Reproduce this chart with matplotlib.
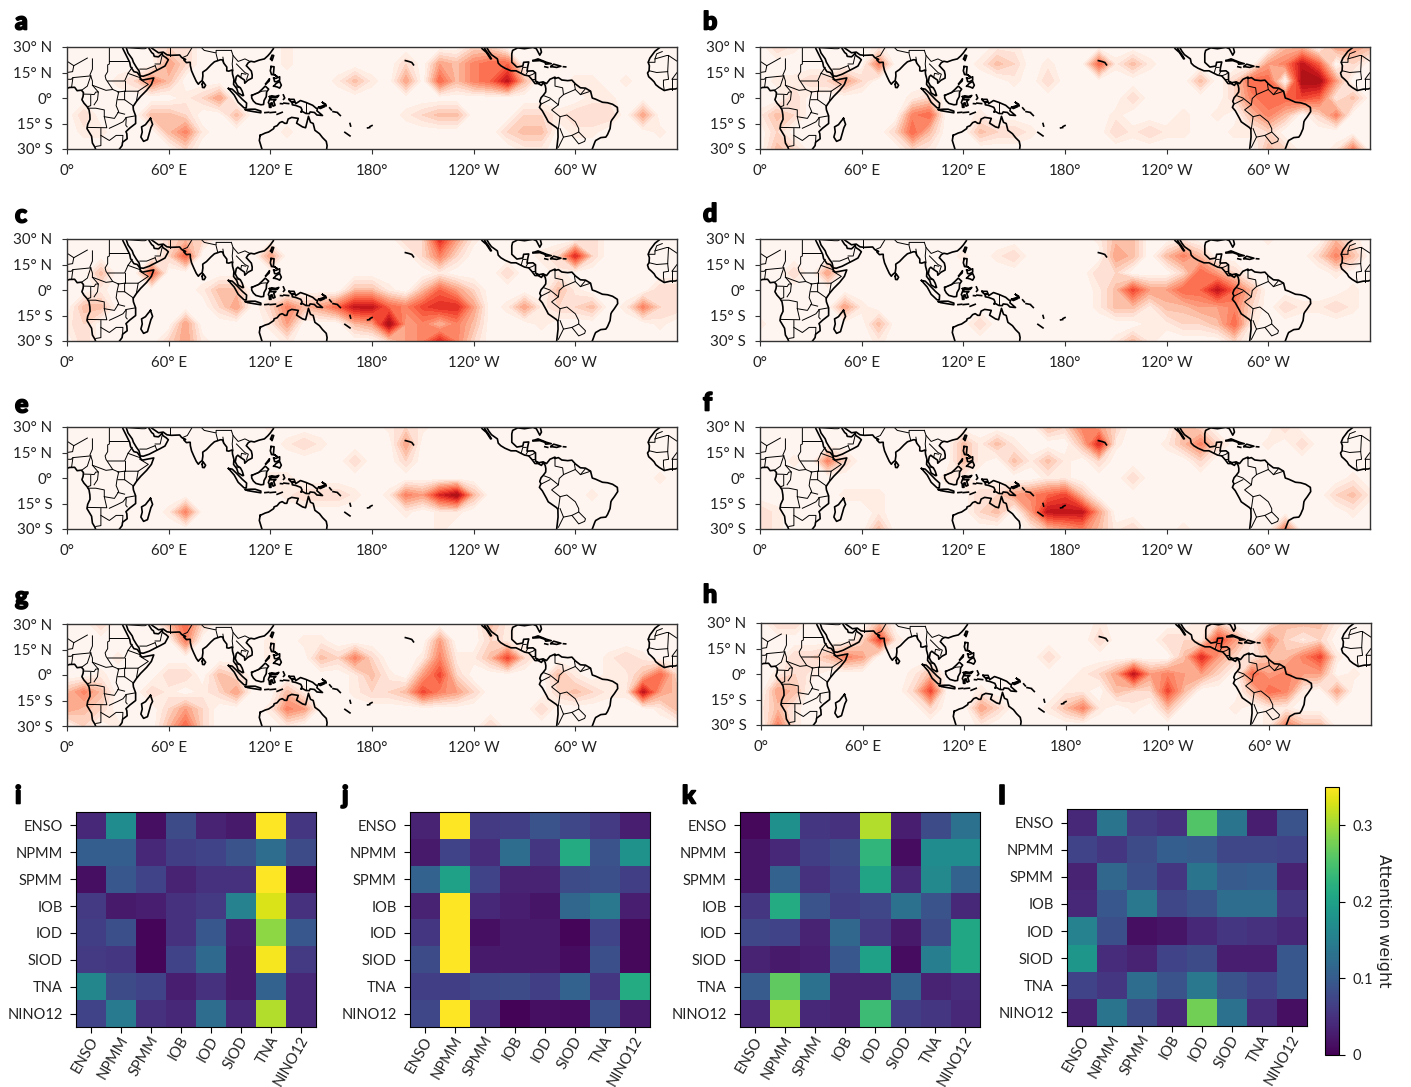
import numpy as np
import matplotlib
matplotlib.use('Agg')
import matplotlib.pyplot as plt
import matplotlib.patheffects as pe
from matplotlib.transforms import ScaledTranslation

plt.rcParams['font.family'] = ['Lato', 'DejaVu Sans']

# attention maps: (lon, lat, value) on a 10 deg grid, rest is 0
panel_a = [(50,10,5),(60,20,4),(70,20,2),(60,30,2),(70,30,2),(50,30,1),(40,10,2),(60,10,3),(30,10,1),
           (90,0,4),(80,0,2),(70,0,1),(100,-10,3),(70,-20,5),(60,-10,3),(50,-10,3),(60,-20,3),(70,-10,2),(70,-30,2),(80,-20,1),
           (170,10,3),(160,10,1),(180,10,1),(10,-10,2),(10,-20,1),(20,-20,1),(130,-20,1),(130,20,1),(130,30,1),
           (200,10,4),(200,20,2),(220,10,6),(220,20,4),(240,10,5),(240,20,5),(250,20,6),(260,10,9),(250,10,6),(260,20,6),
           (230,10,3),(230,20,3),(270,10,3),(240,30,2),(250,30,2),(210,-10,2),(220,-10,3),(230,-10,3),(200,-10,1),
           (270,-10,2),(270,-20,3),(280,-20,3),(260,-20,2),(280,-10,2),(270,-30,1),(280,-30,1),
           (310,-10,2),(320,-10,2),(300,-10,2),(310,0,1),(320,0,1),(290,-10,1),(310,-20,1),(300,-20,1),(300,10,1),(310,10,1),(330,10,1),
           (340,-10,4),(350,-20,1)]
panel_b = [(10,30,2),(20,30,1),(70,20,5),(70,30,1),(50,10,4),(60,10,2),(10,-10,3),(10,-20,2),(0,-10,1),(10,-30,3),(20,-30,2),
           (20,0,2),(20,-10,2),(20,10,1),(30,10,2),(40,10,2),(10,10,1),
           (100,-10,6),(90,-20,6),(90,-10,5),(100,-20,3),(100,0,2),(90,0,1),(80,-20,2),(90,-30,2),(100,-30,1),
           (140,20,3),(130,20,1),(150,20,2),(150,30,1),(150,10,1),(140,30,1),(170,10,2),(170,20,1),
           (200,20,6),(220,20,3),(210,20,1),(230,20,1),(130,-20,3),(140,-20,2),(150,-20,2),(160,-20,1),(130,-10,1),
           (210,-20,2),(210,-10,1),(240,-20,1),(230,-20,2),(250,-20,1),(250,-10,1),(220,-20,1),(220,0,2),(260,10,3),(270,-10,1),(280,-20,1),
           (300,-10,5),(310,-10,3),(300,0,6),(290,0,5),(290,10,6),(300,10,6),(310,0,6),(320,0,7),(320,10,10),(330,10,10),(320,20,9),
           (310,20,5),(330,20,6),(300,20,4),(310,30,3),(320,30,3),(340,10,4),(330,0,6),(290,-10,3),(280,0,2),(280,10,2),(300,-20,2),(290,-20,1),(340,0,1),
           (340,-10,5),(350,0,3),(330,-10,2),(350,-30,5),(340,-30,1),(340,30,4),(350,30,4),(350,20,2),(360,30,3),(300,-30,3),(310,-30,2)]
panel_c = [(20,10,3),(50,10,6),(70,20,6),(70,30,3),(60,30,2),(80,30,2),(60,20,2),(10,-10,3),(20,-10,3),(20,0,1),(10,-20,2),(0,-20,1),(10,-30,2),
           (70,-20,4),(70,-30,4),(60,-30,2),(80,-30,1),(90,0,3),(100,0,3),(100,-10,4),(90,-10,2),(80,0,1),(120,20,4),
           (130,-10,5),(140,-10,3),(130,-20,4),(120,-10,2),(120,-20,1),(130,-30,1),
           (160,-10,6),(170,-10,9),(180,-10,9),(170,0,3),(180,0,3),(150,-10,4),(190,0,1),(190,-10,6),(200,-10,5),(210,-10,7),(220,-10,8),(230,-10,8),(240,-10,4),
           (180,-20,4),(190,-20,10),(200,-20,4),(170,-20,3),(190,-30,2),(200,-30,4),(210,-20,5),(220,-20,3),(230,-20,5),(240,-20,3),(210,-30,5),(220,-30,8),(230,-30,5),(240,-30,2),
           (220,0,6),(210,0,3),(230,0,4),(240,0,2),(220,10,1),(200,30,2),(210,30,2),(220,30,8),(230,30,4),(240,30,1),(220,20,5),(210,20,2),(230,20,2),
           (260,10,2),(270,-10,4),(260,-10,1),(280,-10,1),(290,0,3),(290,10,1),(300,-10,2),(310,-10,3),(290,-10,2),(300,0,1),
           (300,20,8),(290,20,2),(310,20,2),(310,30,2),(280,20,1),(280,-20,1),(340,-10,5),(350,-10,2),(350,0,2),(330,-10,1),(350,-20,1),(360,-10,2),(360,0,2)]
panel_d = [(50,-10,4),(60,-10,1),(40,10,4),(20,10,2),(70,-20,3),(70,-30,1),(130,-20,2),(0,-20,1),(150,20,2),(140,20,1),(120,20,1),
           (210,20,4),(220,30,3),(210,30,3),(220,20,3),(200,30,1),(250,20,5),(240,20,3),(260,20,3),(250,30,1),
           (220,0,7),(210,0,3),(200,0,1),(230,0,4),(240,0,4),(250,0,6),(260,0,6),(270,0,9),(280,0,6),(260,10,6),(270,10,4),(250,10,2),(200,10,2),(210,10,2),(280,10,2),(290,0,3),
           (210,-10,3),(220,-10,3),(230,-10,1),(240,-10,3),(250,-10,3),(260,-10,4),(270,-10,4),(280,-10,5),(290,-10,2),(200,-10,1),
           (280,-20,6),(270,-20,3),(260,-20,2),(230,-20,1),(240,-20,1),(250,-20,2),(290,-20,1),(280,-30,2),(220,-30,3),(210,-30,1),(230,-30,1),
           (310,-10,2),(320,-10,1),(340,-10,2),(330,-10,1),(350,-10,1),(350,0,1),(340,20,5),(330,20,2),(340,30,3),(350,20,3),(340,10,1),(350,30,1),(300,30,1)]
panel_e = [(70,-20,5),(60,-20,1),(140,20,2),(130,20,1),(150,20,1),(170,10,2),(200,20,4),(200,30,2),(200,10,2),(210,30,1),(190,30,1),
           (200,-10,5),(190,-10,1),(210,-10,4),(220,-10,8),(230,-10,10),(240,-10,3),(230,-20,1),(220,-20,1),(200,-20,1),(220,-30,1),
           (130,-10,1),(140,-10,2),(150,-10,2),(160,-10,2),(120,0,1),(130,0,1),(170,-10,1),(350,0,1),(120,30,1),(310,-10,1)]
panel_f = [(40,10,5),(50,10,2),(20,10,1),(140,20,3),(120,10,3),(120,20,3),(130,20,1),(120,0,1),(110,0,1),(130,10,1),
           (150,10,3),(170,10,3),(160,10,1),(180,10,1),(150,20,1),(170,30,3),(190,30,5),(200,30,4),(200,20,8),(190,20,3),(200,10,2),(180,30,2),(210,30,2),(210,20,1),
           (220,0,2),(260,20,5),(250,30,3),(250,20,3),(260,10,2),(270,20,2),(240,20,1),(260,30,2),(310,30,2),(320,20,2),(300,20,1),
           (350,-10,3),(340,-10,2),(350,0,1),(350,-20,1),(360,-10,1),(0,-20,2),(0,-30,2),(10,-20,1),(10,-30,1),(50,-10,1),
           (70,-30,3),(70,-20,1),(60,-10,1),(70,-10,1),
           (170,-20,9),(180,-20,9),(190,-20,9),(170,-10,6),(180,-10,7),(160,-10,5),(160,-20,4),(150,-10,4),(140,-10,2),(130,-10,2),(140,-20,3),(130,-20,2),(190,-10,3),(200,-20,4),
           (170,-30,3),(180,-30,4),(190,-30,5),(200,-30,3),(160,-30,1),(180,0,1),(170,0,1),(310,-30,5),(250,-30,1),(220,-30,2),(210,-30,1)]
panel_g = [(20,30,2),(70,30,6),(70,20,5),(60,30,3),(80,30,2),(10,-10,5),(0,-10,3),(0,-20,4),(10,-20,3),(20,-10,3),(20,-20,2),(10,-30,2),(30,-30,1),(20,0,1),(30,10,1),
           (50,-10,2),(70,0,2),(90,0,3),(100,-10,4),(90,-10,2),(80,-10,1),(60,0,2),(100,0,2),(60,-10,1),
           (70,-30,6),(70,-20,4),(60,-20,2),(60,-30,3),(80,-20,2),(80,-30,2),(120,20,1),(120,10,1),
           (130,-20,5),(130,-10,3),(140,-20,4),(120,-20,1),(140,-10,1),(130,-30,1),
           (150,10,3),(170,10,5),(160,10,2),(180,10,2),(140,20,1),(150,20,1),(170,0,1),(180,0,3),(190,0,1),(180,-10,2),(170,-10,1),
           (220,0,7),(220,10,5),(220,20,4),(210,0,4),(230,0,2),(210,10,1),(230,10,1),(200,-10,3),(210,-10,7),(220,-10,5),(230,-10,4),(240,-10,2),(190,-10,2),
           (250,-30,2),(260,10,7),(250,10,3),(250,20,2),(250,30,3),(260,20,1),(270,10,2),(260,30,1),(240,10,1),
           (290,0,3),(300,-10,3),(310,-10,2),(290,-10,2),(320,-10,1),(300,0,1),(280,-20,2),(330,10,2),(320,10,1),(340,10,1),(320,0,1),(330,0,1),
           (340,-10,9),(350,0,6),(340,0,3),(350,-10,4),(330,-10,1),(360,0,2),(360,-10,3),(360,-20,3),(350,-20,1)]
panel_h = [(10,30,2),(20,30,2),(70,20,7),(60,20,2),(70,30,3),(60,10,4),(50,10,5),(40,10,3),(80,20,1),(20,10,2),(30,0,1),(30,10,2),
           (10,-10,4),(20,-10,3),(10,0,1),(10,-20,3),(10,-30,5),(0,-20,1),(20,-30,1),(20,0,2),(20,-20,1),
           (100,-10,7),(100,0,3),(90,0,1),(100,-20,2),(90,-10,2),(130,-20,4),(130,-10,1),(140,-20,2),(130,-30,1),(170,10,2),(200,20,2),(200,30,1),
           (190,-20,5),(180,-20,3),(180,-10,1),(190,-10,1),(170,-20,1),(200,-20,1),
           (220,0,9),(210,0,4),(200,0,2),(190,0,1),(230,0,4),(240,0,5),(250,0,4),(260,0,4),(270,0,2),
           (240,-10,7),(230,-10,2),(250,-10,3),(220,-10,2),(210,-10,3),(240,-20,3),(220,-20,1),
           (260,10,8),(250,10,3),(270,10,4),(250,20,2),(240,20,2),(260,20,1),(280,10,2),(270,20,7),(280,20,4),(270,30,2),(290,20,1),(260,30,1),
           (300,20,5),(310,30,3),(320,30,3),(330,30,3),(300,30,1),(310,20,2),(310,10,3),(320,10,5),(330,10,7),(340,10,1),(320,20,1),(300,10,3),(330,20,2),(340,30,1),
           (290,0,6),(300,-10,6),(310,-10,5),(300,0,4),(310,0,5),(320,0,4),(330,0,4),(290,-10,3),(320,-10,1),(310,-20,1),(300,-20,1),(290,10,1),
           (340,-10,4),(350,0,1),(310,-30,5),(320,-30,3),(300,-30,1),(330,-30,3),(280,-20,1)]

# attention weight matrices
indices = ['ENSO', 'NPMM', 'SPMM', 'IOB', 'IOD', 'SIOD', 'TNA', 'NINO12']
weights_i = [[.04,.17,.015,.08,.035,.025,.35,.055],
             [.105,.105,.04,.065,.07,.09,.125,.08],
             [.015,.095,.07,.035,.05,.05,.35,.008],
             [.06,.025,.03,.05,.06,.155,.33,.05],
             [.065,.085,.005,.05,.095,.03,.29,.095],
             [.06,.055,.005,.07,.12,.025,.345,.06],
             [.16,.08,.07,.03,.05,.025,.11,.04],
             [.07,.145,.05,.04,.125,.04,.31,.04]]
weights_j = [[.035,.35,.06,.065,.09,.075,.06,.03],
             [.025,.07,.045,.125,.055,.215,.09,.18],
             [.11,.2,.07,.035,.035,.08,.085,.065],
             [.035,.35,.04,.03,.02,.115,.14,.03],
             [.055,.35,.015,.025,.025,.005,.07,.008],
             [.08,.35,.025,.025,.025,.012,.085,.008],
             [.065,.065,.075,.08,.065,.11,.055,.215],
             [.075,.35,.05,.003,.015,.012,.085,.025]]
weights_k = [[.008,.175,.055,.05,.31,.03,.08,.13],
             [.02,.04,.065,.08,.23,.012,.17,.17],
             [.02,.11,.05,.07,.205,.04,.165,.11],
             [.055,.215,.09,.065,.075,.13,.09,.04],
             [.075,.07,.035,.115,.06,.025,.08,.21],
             [.035,.025,.03,.095,.2,.012,.15,.21],
             [.1,.265,.13,.035,.035,.11,.035,.045],
             [.04,.305,.04,.035,.24,.065,.055,.04]]
weights_l = [[.04,.135,.06,.05,.255,.135,.03,.09],
             [.07,.055,.08,.105,.1,.075,.075,.07],
             [.035,.115,.085,.055,.135,.1,.105,.035],
             [.04,.095,.14,.075,.09,.125,.125,.055],
             [.155,.085,.015,.02,.04,.055,.05,.04],
             [.185,.045,.035,.07,.08,.03,.03,.095],
             [.07,.055,.125,.09,.14,.09,.07,.095],
             [.035,.135,.08,.04,.275,.13,.045,.015]]

# rough coastlines in lon, lat (no cartopy here)
africa = [(-9.8,30),(-13,27.5),(-16,23.5),(-17,21),(-16.3,19),(-16.5,16),(-17.4,14.7),(-16.7,12.5),(-15,11),(-13.5,9.5),(-12.5,7.8),(-10.5,6.2),
          (-7.5,4.4),(-4,5.2),(-1,5.3),(1.5,6.2),(4.5,6.3),(6,4.3),(8.5,4.6),(9.7,3.2),(9.5,1),(8.8,-1),(10,-3),(11.8,-5),(13,-7),(13.5,-10),
          (13.6,-12.5),(12.2,-15.5),(11.8,-18),(14.5,-22.5),(15,-26.5),(16.5,-29),(17.5,-32),(28,-33),(31,-30),(32.5,-28),(32.8,-26),(35.5,-24),
          (35.3,-21),(34.8,-19.8),(36.9,-17.8),(40.5,-15),(40.5,-10.5),(39.2,-7),(39,-5),(41,-2),(43.5,1),(47,4.5),(49.8,8),(51.2,11.8),(48,11.2),
          (44.5,10.5),(43.2,11.6),(43.3,12.5),(41.5,15),(39.5,15.5),(37.5,18.5),(37,21),(35.5,24),(34,27),(33,29),(32.5,31)]
asia = [(35,31),(35,29.5),(36,26.5),(38.5,23),(39.2,21),(41,18),(42.5,16),(43.2,13),(45,12.8),(48.5,14),(52,15.8),(55,17.3),(57.8,18.8),(59.8,22.5),
        (58.5,23.7),(56.5,25),(56.2,26.2),(54,24.2),(51.5,24.5),(51,26),(50,26.7),(48.5,29),(48,30.2),(48.8,30.3),(50.8,28.8),(54,26.6),(56.8,27),
        (59,25.4),(61.5,25.1),(66.5,25.3),(67.5,24),(68.5,23.3),(70,22.7),(69,22.3),(70.5,20.8),(72,21),(72.7,21),(72.8,19),(73.5,16),(74.8,13),
        (76.3,9.8),(77.5,8.1),(78.2,9),(79.8,10.3),(80.2,13),(80.1,15.2),(82.3,16.7),(85,19.5),(87,21.3),(88.5,21.8),(90.5,22.5),(91.8,22.4),
        (92.5,20.5),(94.3,18.2),(94.3,16),(95.5,15.8),(97.5,16.5),(97.7,14),(98.5,11),(98.3,8),(100.2,5.5),(101,3),(103.5,1.4),(104.2,1.5),
        (103.4,4),(102.3,6),(100.5,7.2),(99.3,9.5),(99.9,12.5),(100.8,13.4),(102.3,12.2),(104.8,10.5),(104.9,8.7),(106.7,10.4),(109.2,11.7),
        (109.3,13.5),(108.8,15.8),(106.5,18.3),(105.8,19),(107,20.8),(108.5,21.6),(110.5,21.2),(113.5,22.3),(116.5,23),(118.5,24.8),(120,26.5),(121.8,29),(122,31)]
australia = [(114,-22),(117,-20.6),(119,-20),(122,-18),(122.2,-17),(124,-16.3),(125.5,-14.5),(127,-13.9),(128.5,-14.9),(129.7,-14.9),(130.5,-12.4),
             (132.6,-11.4),(136.5,-12),(135.5,-14.8),(139,-17),(140.8,-17.5),(141.7,-14),(142.5,-10.8),(143.7,-14.3),(145.3,-15),(146.3,-19),(149,-21),
             (150.8,-23.3),(153,-25.5),(153.5,-28),(153,-32),(150,-38),(140,-38),(130,-32),(115,-35),(115.5,-31.5),(113.5,-25),(114,-22)]
americas = [(-117,32.5),(-115,29),(-112.5,26.8),(-110,23),(-109.5,23.1),(-111,25.5),(-112.8,28),(-114.8,31.5),(-113,31),(-111,27.5),(-109.5,25.5),(-106,23),
            (-105.5,20.5),(-104,19),(-101.5,17.5),(-98,16),(-95,16),(-92,14.5),(-90,13.5),(-87.5,13),(-85.7,11),(-83.8,8.5),(-82,8.5),(-80,7.4),(-79,9),
            (-77.8,7.5),(-77.4,5.5),(-77.5,3.5),(-79,1.5),(-80.2,0.2),(-81,-2),(-80.3,-3.4),(-81.2,-5.5),(-79.5,-7.5),(-77,-12),(-76,-14),(-71,-17.5),
            (-70.3,-18.5),(-70.2,-23),(-71,-30),(-71.5,-33),(-52,-33),(-50,-30),(-48.5,-26),(-48,-25),(-45,-23.3),(-42,-23),(-41,-21.5),(-39.5,-18),(-39,-14),
            (-38.5,-13),(-37,-11),(-35,-8),(-35.2,-5.5),(-38,-3.7),(-41,-2.8),(-44,-2.5),(-48,-0.7),(-50,0),(-51,4),(-54,5.8),(-57,6),(-60,8.3),(-62,10.5),
            (-64.5,10.2),(-68,10.6),(-70,12),(-72,11.5),(-72,12.3),(-75,11),(-77,8.5),(-79,9.5),(-81.5,9),(-83.5,10),(-83.5,14.8),(-85,16),(-88.5,15.8),
            (-88.2,18),(-87.5,21.2),(-90.5,21),(-91,18.8),(-94.5,18.2),(-97.5,21),(-97.5,26),(-97,28),(-94,29.5),(-90,29),(-85,29.8),(-83,29),(-81,25.2),(-80,27),(-81,31)]
islands = [[(79.8,8),(80.2,9.7),(81.8,7.5),(81,6.1),(80,6.2),(79.8,8)],
           [(95.3,5.6),(97.5,5.2),(100,2.8),(103.5,-0.8),(106,-3),(105.8,-5.8),(104.5,-5.8),(101,-2.5),(98.7,1.7),(95.3,5.6)],
           [(105.3,-6.8),(108.5,-6.6),(111,-6.6),(114.4,-7.7),(114.4,-8.7),(110,-8),(106.5,-7.4),(105.3,-6.8)],
           [(109,1.5),(111.3,2.5),(113,3.2),(115,5),(117,7),(119,5.2),(117.8,3.5),(117.6,0.8),(116.3,-1.5),(116,-3.8),(114.5,-4),(111.5,-3.2),(110,-1.8),(109,0),(109,1.5)],
           [(119.5,0.8),(120.8,1.3),(123,0.9),(125,1.5),(124,0.3),(120.5,0.3),(120,-1),(121.5,-1),(123.3,-0.9),(122,-2),(122.8,-4.3),(121.6,-4.8),(121,-2.8),(120.3,-3),(120.4,-5.5),(119.5,-5.5),(119.3,-3.4),(118.8,-2.7),(119.8,-0.1),(119.5,0.8)],
           [(120.5,18.5),(122.2,18.4),(122,16),(121.8,14.2),(124,12.6),(122.5,13.6),(120.7,13.8),(120,16),(120.5,18.5)],
           [(122,7),(123.5,8.6),(125.5,9.7),(126.5,7.5),(125.5,5.8),(124,6.5),(122,7)],
           [(122,11.8),(123.2,11.5),(125.5,12.5),(125.5,10.5),(123.5,9.5),(122.5,9.7),(122,11.8)],
           [(117.3,8.4),(119.5,11.3),(119.3,10),(117.3,8.2)],
           [(120.2,23),(121,25.2),(122,25),(121,22),(120.2,23)],
           [(131,-0.8),(134,-0.8),(135,-3.3),(137.8,-1.5),(141,-2.6),(145,-4.3),(147,-6),(147.8,-6.2),(147.5,-7.5),(150.8,-10.3),(147.5,-10),(146,-8.5),(143.5,-8.2),(143,-9.2),(141,-9.1),(139,-8),(138,-8.3),(138.7,-7),(138,-5.5),(135,-4.4),(133,-4),(132.8,-2.8),(134,-2.5),(132,-2.1),(131,-0.8)],
           [(148.5,-5.5),(152,-4.2),(152.2,-5),(149.5,-6.2),(148.5,-5.5)],[(150.8,-2.6),(153,-4.7),(152.6,-3.6),(150.8,-2.6)],
           [(155,-5.8),(156,-7)],[(157,-8),(159.5,-8.5)],[(160,-9),(161.3,-10.3)],[(167,-15),(167.4,-16.5)],[(164,-20.2),(167,-22.3)],
           [(177.4,-17.6),(178.6,-17.4)],[(178.8,-16.8),(180,-16.2)],[(124,-9.6),(127,-8.4)],[(119.9,-8.6),(123,-8.3)],[(116.8,-8.6),(119,-8.4)],
           [(127.7,1.8),(128.5,0),(127.8,-0.8)],[(128,-3),(130.8,-3.3)],[(126,-3.3),(127.2,-3.4)],
           [(199.7,22),(202,21.4),(203.5,20.9),(204.5,19.5)],
           [(49.3,-12),(50.5,-15.5),(49.5,-17.5),(47.5,-24.5),(45.2,-25.5),(43.6,-23),(44.4,-20),(44,-17),(46.3,-15.7),(48,-13.5),(49.3,-12)],
           [(-85,22),(-82,23),(-77,21),(-74.2,20.2),(-77.5,19.9),(-78,21),(-81,22),(-84,21.8),(-85,22)],
           [(-74.4,18.5),(-72.8,19.9),(-68.5,18.7),(-71,18),(-74.4,18.5)],[(-78,18.4),(-76.3,18)],[(-67,18.4),(-65.7,18.3)]]
borders = [[(25,32),(25,20),(24,19.5),(24,15.5),(22.5,13),(23,11),(27,5),(30.5,3.5)],[(25,22),(36.8,22)],[(15,23),(15,17),(13.5,13.5)],
           [(12,23.5),(4,19),(3.3,15.5),(0,15),(-3,11),(2.5,11),(3.5,12),(14,13)],[(-17,21),(-13,21),(-13,23),(-12,26),(-8.7,27.3)],
           [(-13,23),(-6,25),(-5,25),(-5.5,15.5),(-12,15),(-16.3,16)],[(4,19),(-5,25)],[(-5.5,15.5),(-5,11),(-8,10.5),(-8,7.5),(-7.5,4.4)],[(2.7,6.3),(3.5,12)],[(-3,11),(-3,5)],
           [(14,13),(12,7),(8.7,4.6)],[(14,13),(15,10),(15,7.5),(18.5,3.5),(17,3.5),(16,2),(13.5,2.2),(9.8,2.3)],[(14,1.5),(14,-4.5),(12.5,-5)],
           [(18.5,3.5),(18,-1),(16,-4)],[(15,7.5),(23,4.5),(27,5)],[(30.5,3.5),(29.5,-1),(29,-4.5),(30.5,-8),(28,-12),(22,-11),(22,-7),(17,-6),(12.5,-6)],
           [(12,-17.3),(23.5,-17.5),(22,-11)],[(25,-17.8),(30,-15.5),(33,-14),(35,-11.5),(34.7,-16),(35.5,-17)],[(34.7,-11.5),(40.4,-10.5)],[(30,-8.5),(34,-9.5)],
           [(20,-18),(20,-28),(17,-28.5)],[(20,-22),(25,-25),(29,-22),(33,-22),(32.8,-26)],[(30,-1),(34,-1),(37.5,-3.5),(39.2,-4.7)],[(34,-1),(34,4),(42,4),(41,-1.7)],
           [(24,10),(34,10),(36,14.5),(38.5,18)],[(34,10),(34,4)],[(36,14.5),(43,12)],[(42,4),(48,8),(43,11)],[(30,3.5),(34,4)],
           [(-70,-18),(-69,-11),(-74,-7),(-70,-4),(-69.5,-0.3),(-67,2),(-60,5),(-60.5,8)],[(-70,-4),(-75,0),(-78.5,1.3)],[(-72,12),(-72,7),(-67.5,6),(-67,2)],[(-80,-3.5),(-75,-1)],
           [(-60,5),(-57,2),(-51,4)],[(-57,2),(-54,5.5)],[(-69,-11),(-65,-10),(-60,-14),(-58,-18),(-58,-20),(-62,-22),(-67,-23),(-69,-18)],[(-62,-22),(-58,-27),(-54.5,-25.5),(-54,-24),(-58,-20)],[(-70,-29),(-67,-23)],
           [(-92,14.5),(-91,18),(-89,18)],[(-89,14),(-88,15.7)],[(-85.7,11),(-83.7,11)],[(-83,8.5),(-82.8,9.5)],[(-87.5,13),(-85,14),(-83.5,15)],
           [(68,23.7),(71,25),(74,30)],[(78,31),(81,28),(88,26.5),(88,28),(92,28),(97,28)],[(88,26),(89,22)],[(92,24),(92.5,21)],[(97,28),(98,25),(101,21.5),(105,23),(108,21.5)],
           [(98,25),(97.5,20),(98,16)],[(100,20),(102,18),(105,15),(107,14),(106,11)],[(102.5,12),(103,14.5),(105.5,14)],[(100,6.5),(102,6)],
           [(48,30),(46,29),(44,29),(36,29.5)],[(52,20),(55,20),(56,24.5)],[(52,19),(53,16.5)],[(43,17),(47,17),(52,19)],[(61,25),(61,31)],
           [(109.6,1.7),(115,4),(117.5,4.2)],[(141,-2.6),(141,-9.1)]]

W, H = 1411, 1087
lons = np.arange(0, 370, 10)
lats = np.arange(30, -40, -10)
levels = np.linspace(0, 10, 16)


def axes_px(x0, y0, x1, y1):
    return fig.add_axes([x0 / W, 1 - y1 / H, (x1 - x0) / W, (y1 - y0) / H])


def to_grid(cells):
    grid = np.zeros((len(lats), len(lons)))
    for lon, lat, val in cells:
        grid[(30 - lat) // 10, lon // 10] = val
    return grid


def draw_coast(ax):
    for shift in (0, 360):
        for line in [africa, asia, australia, americas] + islands:
            xy = np.array(line)
            ax.plot(xy[:, 0] + shift, xy[:, 1], color='k', lw=1.2)
        for line in borders:
            xy = np.array(line)
            ax.plot(xy[:, 0] + shift, xy[:, 1], color='k', lw=0.7)


def draw_map(x0, y0, cells):
    ax = axes_px(x0, y0, x0 + 610, y0 + 102)
    ax.contourf(lons, lats, to_grid(cells), levels=levels, cmap='Reds', vmin=0.35, vmax=11.5)
    draw_coast(ax)
    ax.set_xlim(0, 360)
    ax.set_ylim(-30, 30)
    ax.set_xticks([0, 60, 120, 180, 240, 300])
    ax.set_xticklabels(['0°', '60° E', '120° E', '180°', '120° W', '60° W'])
    ax.set_yticks([30, 15, 0, -15, -30])
    ax.set_yticklabels(['30° N', '15° N', '0°', '15° S', '30° S'])
    ax.tick_params(labelsize=10.8, length=3.5, width=0.8, color='#333333', labelcolor='#222222')
    ax.tick_params(axis='x', pad=7)
    ax.tick_params(axis='y', pad=7)
    for sp in ax.spines.values():
        sp.set_color('#333333')
        sp.set_linewidth(1.0)
    return ax


def draw_heat(x0, y0, x1, y1, weights):
    ax = axes_px(x0, y0, x1, y1)
    im = ax.imshow(np.array(weights), cmap='viridis', vmin=0, vmax=0.35, aspect='auto', interpolation='nearest')
    ax.set_xticks(range(8))
    ax.set_yticks(range(8))
    ax.set_yticklabels(indices)
    ax.set_xticklabels(indices, rotation=60, ha='right', va='center', rotation_mode='anchor')
    ax.tick_params(labelsize=10.5, length=4.5, width=0.8, labelcolor='#222222')
    ax.tick_params(axis='x', pad=3)
    ax.tick_params(axis='y', pad=5)
    shift = ScaledTranslation(4 / 100, 0, fig.dpi_scale_trans)
    for lab in ax.get_xticklabels():
        lab.set_transform(lab.get_transform() + shift)
    return im


fig = plt.figure(figsize=(W / 100, H / 100), dpi=100)

draw_map(67, 47, panel_a)
draw_map(760, 47, panel_b)
draw_map(67, 239, panel_c)
draw_map(760, 239, panel_d)
draw_map(67, 427, panel_e)
draw_map(760, 427, panel_f)
draw_map(67, 624, panel_g)
draw_map(761, 623, panel_h)

draw_heat(76, 812, 316, 1027, weights_i)
draw_heat(410, 812, 650, 1027, weights_j)
draw_heat(740, 812, 980, 1027, weights_k)
im = draw_heat(1067, 809, 1307, 1026, weights_l)

cax = axes_px(1325, 787, 1339, 1055)
cb = fig.colorbar(im, cax=cax)
cb.set_ticks([0, 0.1, 0.2, 0.3])
cb.set_ticklabels(['0', '0.1', '0.2', '0.3'])
cb.ax.tick_params(labelsize=10.5, length=4, width=0.8, pad=6, labelcolor='#222222')
cb.set_label('Attention weight', rotation=270, fontsize=11.5, labelpad=13, color='#222222', family='DejaVu Sans')

letters = [('a', 15, 22), ('b', 703, 22), ('c', 15, 215), ('d', 703, 214), ('e', 15, 405), ('f', 703, 403),
           ('g', 15, 597), ('h', 703, 595), ('i', 15, 796), ('j', 342, 796), ('k', 682, 796), ('l', 999, 796)]
for let, x, y in letters:
    fig.text(x / W, 1 - y / H, let, fontsize=18, fontweight='black', va='center', ha='left', color='k',
             path_effects=[pe.withStroke(linewidth=1.2, foreground='k')])

fig.savefig('out.png', dpi=100)
plt.close('all')
